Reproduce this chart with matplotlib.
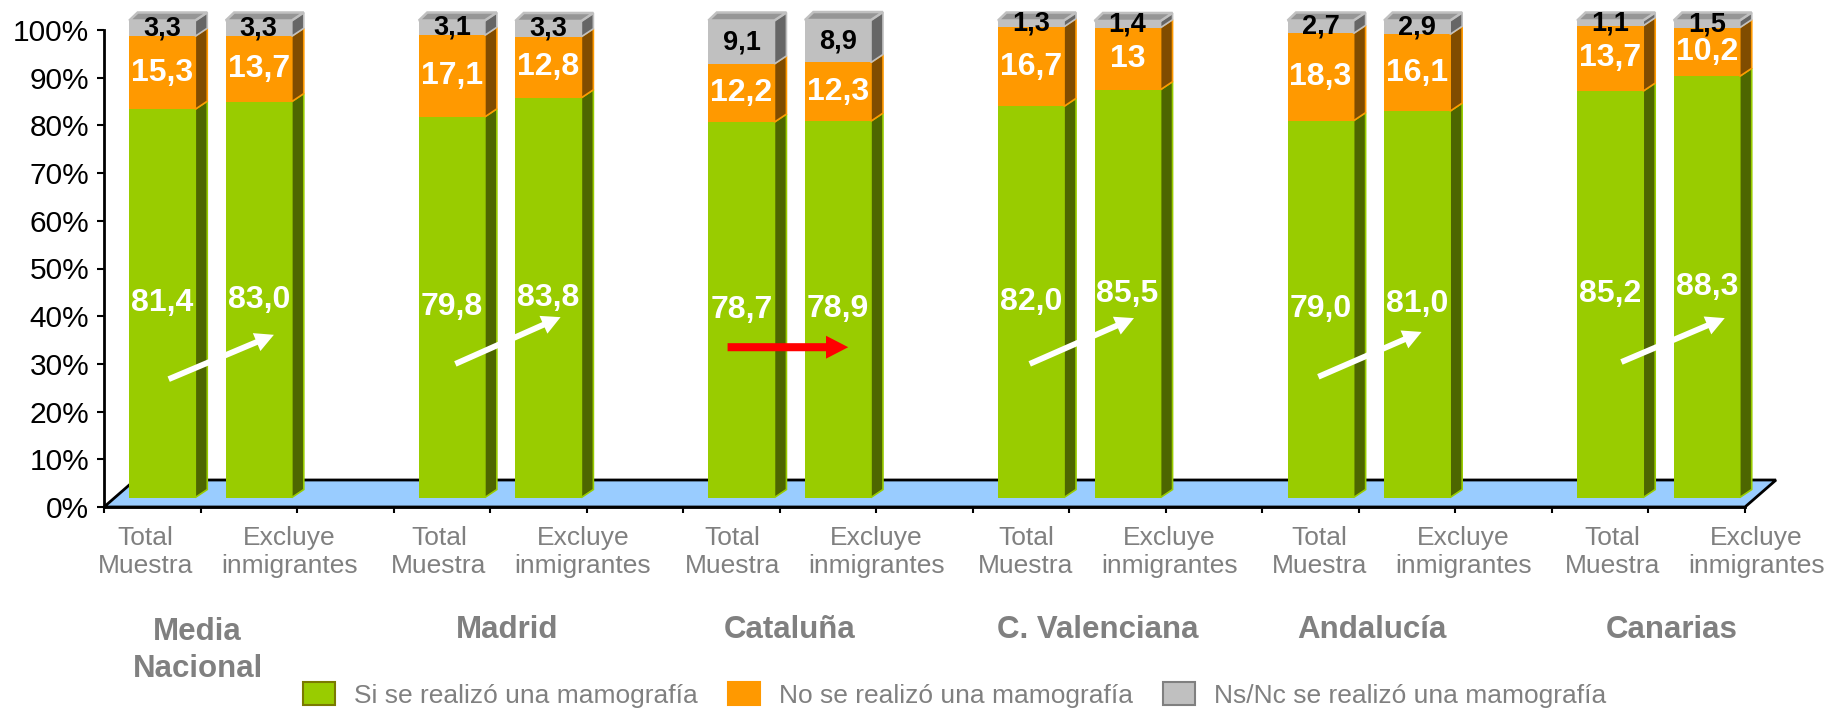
import matplotlib
matplotlib.use('Agg')
import matplotlib.pyplot as plt
from matplotlib.patches import Polygon, Patch, FancyArrowPatch
import numpy as np

plt.rcParams['font.family'] = ['Liberation Sans', 'DejaVu Sans']

# ---- data ----
groups = ['Media\nNacional', 'Madrid', 'Cataluña', 'C. Valenciana', 'Andalucía', 'Canarias']
subgroups = ['Total\nMuestra', 'Excluye\ninmigrantes']
series = ['Si se realizó una mamografía', 'No se realizó una mamografía',
          'Ns/Nc se realizó una mamografía']

si_vals = [81.4, 83.0, 79.8, 83.8, 78.7, 78.9, 82.0, 85.5, 79.0, 81.0, 85.2, 88.3]
no_vals = [15.3, 13.7, 17.1, 12.8, 12.2, 12.3, 16.7, 13.0, 18.3, 16.1, 13.7, 10.2]
ns_vals = [3.3, 3.3, 3.1, 3.3, 9.1, 8.9, 1.3, 1.4, 2.7, 2.9, 1.1, 1.5]
no_labels = ['15,3', '13,7', '17,1', '12,8', '12,2', '12,3', '16,7', '13', '18,3', '16,1', '13,7', '10,2']

yticks = list(range(0, 101, 10))

# ---- style ----
FACE = ['#99CC00', '#FF9900', '#C0C0C0']
SIDE_C = ['#4D6600', '#804C00', '#666666']
TOP_C = '#969696'
LEG_EDGE = ['#7A7A00', '#FF9900', '#808080']
TXT_GREY = '#808080'
FLOOR_C = '#99CCFF'

W, H = 1829, 708
fig = plt.figure(figsize=(W / 100, H / 100), dpi=100)
ax = fig.add_axes([104 / W, (H - 507) / H, (1745 - 104) / W, 477 / H])
ax.set_xlim(0, 17)
ax.set_ylim(0, 100)

px_x = 17 / 1641   # data units per pixel
px_y = 100 / 477
FLOOR = (31 * px_x, 27 * px_y)
FRONT = (10 * px_x, 9.5 * px_y)
SIDE = (12 * px_x, 8 * px_y)
BAR_W = 66 * px_x

# floor
floor = Polygon([(0, 0), (17, 0), (17 + FLOOR[0], FLOOR[1]), (FLOOR[0], FLOOR[1])],
                closed=True, facecolor=FLOOR_C, edgecolor='black', lw=2, zorder=1,
                clip_on=False)
ax.add_patch(floor)

# bars: slot 3*g + j, empty slot between groups
slots = np.array([3 * g + j for g in range(len(groups)) for j in range(len(subgroups))])
xc = slots + 0.5 + FRONT[0]
xl = xc - BAR_W / 2
xr = xc + BAR_W / 2

bottom = np.zeros(len(slots))
for k, vals in enumerate([si_vals, no_vals, ns_vals]):
    vals = np.array(vals)
    b0 = bottom + FRONT[1]
    ax.bar(xc, vals, BAR_W, bottom=b0, color=FACE[k], linewidth=0, zorder=3, clip_on=False)
    for i in range(len(slots)):
        b, t = b0[i], b0[i] + vals[i]
        side = Polygon([(xr[i], b), (xr[i] + SIDE[0], b + SIDE[1]),
                        (xr[i] + SIDE[0], t + SIDE[1]), (xr[i], t)],
                       closed=True, facecolor=SIDE_C[k], edgecolor=FACE[k], lw=1.2,
                       zorder=3, clip_on=False)
        ax.add_patch(side)
    bottom = bottom + vals

# top faces
for i in range(len(slots)):
    t = bottom[i] + FRONT[1]
    top = Polygon([(xl[i], t), (xl[i] + SIDE[0] * 0.7, t + SIDE[1]),
                   (xr[i] + SIDE[0], t + SIDE[1]), (xr[i], t)],
                  closed=True, facecolor=TOP_C, edgecolor=FACE[2], lw=1.8,
                  zorder=3, clip_on=False)
    ax.add_patch(top)

# value labels
si_arr, no_arr, ns_arr = np.array(si_vals), np.array(no_vals), np.array(ns_vals)
for i in range(len(slots)):
    ax.text(xc[i], FRONT[1] + si_arr[i] / 2, f"{si_arr[i]:.1f}".replace('.', ','),
            ha='center', va='center', color='white', fontsize=23, fontweight='bold',
            zorder=5)
    ax.text(xc[i], FRONT[1] + si_arr[i] + no_arr[i] / 2, no_labels[i],
            ha='center', va='center', color='white', fontsize=23, fontweight='bold',
            zorder=5)
    ax.text(xc[i], FRONT[1] + si_arr[i] + no_arr[i] + ns_arr[i] / 2,
            f"{ns_arr[i]:.1f}".replace('.', ','),
            ha='center', va='center', color='black', fontsize=19.5, fontweight='bold',
            zorder=5, clip_on=False)

# arrows
arrows = [((0.67, 26.8), (1.76, 36.1)), ((3.64, 30.0), (4.73, 39.8)),
          ((6.46, 33.5), (7.71, 33.5)), ((9.59, 30.0), (10.67, 39.6)),
          ((12.58, 27.3), (13.65, 36.7)), ((15.72, 30.4), (16.79, 39.6))]
arrow_colors = ['white', 'white', '#FF0000', 'white', 'white', 'white']
for (p0, p1), c in zip(arrows, arrow_colors):
    if c == 'white':
        style = 'simple,head_length=1.35,head_width=1.4,tail_width=0.42'
    else:
        style = 'simple,head_length=1.6,head_width=1.65,tail_width=0.58'
    ax.add_patch(FancyArrowPatch(p0, p1, arrowstyle=style, mutation_scale=10,
                                 color=c, lw=0, shrinkA=0, shrinkB=0, zorder=6))

# axes styling
for s in ['top', 'right']:
    ax.spines[s].set_visible(False)
for s in ['left', 'bottom']:
    ax.spines[s].set_linewidth(2)
    ax.spines[s].set_zorder(2)
ax.set_yticks(yticks)
ax.set_yticklabels([f"{v}%" for v in yticks])
ax.tick_params(axis='y', direction='out', length=5, width=1.5, labelsize=21.5, pad=5.5)
ax.set_xticks(np.arange(18))
ax.set_xticklabels([])
ax.tick_params(axis='x', direction='out', length=4, width=1.5)

# category labels
for g in range(len(groups)):
    for j, lab in enumerate(subgroups):
        ax.text(0.43 + 3.04 * g + 1.49 * j, -9.5, lab, ha='center', va='center',
                fontsize=19, color=TXT_GREY, linespacing=1.2, clip_on=False)

group_x = [0.97, 4.18, 7.10, 10.29, 13.13, 16.24]
for gx, name in zip(group_x, groups):
    y = -30.1 if '\n' in name else -25.8
    ax.text(gx, y, name, ha='center', va='center', fontsize=22.5, fontweight='bold',
            color=TXT_GREY, linespacing=1.3, clip_on=False)

# legend
handles = [Patch(facecolor=FACE[k], edgecolor=LEG_EDGE[k], lw=1.5) for k in range(3)]
fig.legend(handles, series, loc='center left', bbox_to_anchor=(303 / W, 1 - 695 / H),
           ncol=3, frameon=False, fontsize=19, handlelength=1.21, handleheight=0.95,
           handletextpad=0.72, columnspacing=1.14, borderpad=0, borderaxespad=0,
           labelcolor=TXT_GREY)

fig.savefig('out.png', dpi=100)
